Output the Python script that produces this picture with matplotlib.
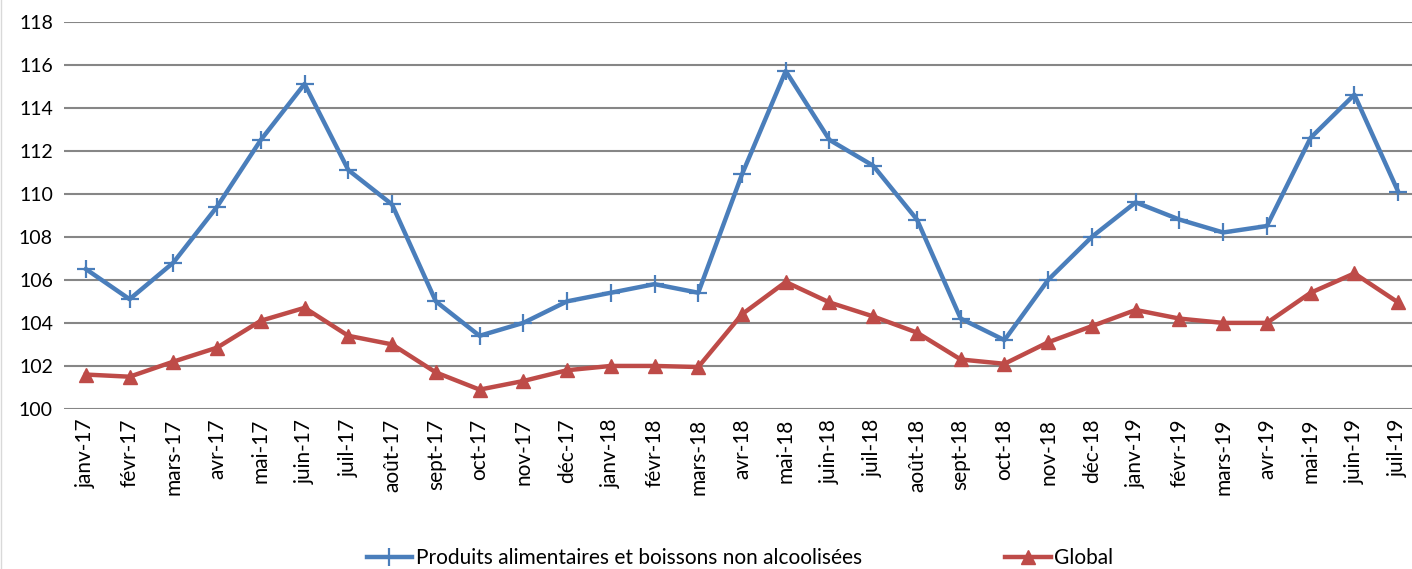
import matplotlib
matplotlib.use("Agg")
import matplotlib.pyplot as plt

months = ["janv-17", "févr-17", "mars-17", "avr-17", "mai-17", "juin-17", "juil-17", "août-17",
          "sept-17", "oct-17", "nov-17", "déc-17", "janv-18", "févr-18", "mars-18", "avr-18",
          "mai-18", "juin-18", "juil-18", "août-18", "sept-18", "oct-18", "nov-18", "déc-18",
          "janv-19", "févr-19", "mars-19", "avr-19", "mai-19", "juin-19", "juil-19"]

alim = [106.5, 105.1, 106.8, 109.4, 112.5, 115.1, 111.1, 109.5, 105.0, 103.4, 104.0, 105.0,
        105.4, 105.8, 105.4, 110.9, 115.7, 112.5, 111.3, 108.8, 104.2, 103.2, 106.0, 108.0,
        109.6, 108.8, 108.2, 108.5, 112.6, 114.6, 110.1]

glob = [101.6, 101.5, 102.2, 102.85, 104.1, 104.7, 103.4, 103.0, 101.7, 100.9, 101.3, 101.8,
        102.0, 102.0, 101.95, 104.4, 105.9, 104.95, 104.3, 103.55, 102.3, 102.1, 103.1, 103.85,
        104.6, 104.2, 104.0, 104.0, 105.4, 106.3, 104.95]

yticks = list(range(100, 119, 2))

plt.rcParams['font.family'] = ['Lato', 'DejaVu Sans']

W, H = 1412, 569
fig = plt.figure(figsize=(W / 100, H / 100), dpi=100)
ax = fig.add_axes([64 / W, 1 - 409 / H, 1356 / W, (409 - 21.5) / H])

x = list(range(len(months)))
blue = "#4A7EBB"
red = "#BE4B48"
l1, = ax.plot(x, alim, color=blue, lw=3.2, marker='+', ms=13, mew=1.6,
              label="Produits alimentaires et boissons non alcoolisées", zorder=3)
l2, = ax.plot(x, glob, color=red, lw=3.2, marker='^', ms=10,
              label="Global", zorder=3)

ax.set_xlim(-0.5, len(months) - 0.5)
ax.set_ylim(100, 118)
ax.set_yticks(yticks)
ax.set_yticklabels([str(v) for v in yticks], fontsize=14)
ax.set_xticks(x)
ax.set_xticklabels(months, rotation=90, fontsize=15)
ax.tick_params(axis='y', length=0, pad=8)
ax.tick_params(axis='x', length=0, pad=7)
ax.grid(axis='y', color='#868686', lw=1.5)
ax.set_axisbelow(True)
for s in ax.spines.values():
    s.set_visible(False)

fig.legend(handles=[l1, l2], loc='center', bbox_to_anchor=(740 / W, 1 - 558 / H),
           ncol=2, frameon=False, fontsize=15, columnspacing=6.9, handlelength=2.2,
           handletextpad=0.15)

fig.add_artist(plt.Line2D([0.5 / W, 0.5 / W], [0, 1], color='#d9d9d9', lw=1))
fig.savefig("out.png", dpi=100)
